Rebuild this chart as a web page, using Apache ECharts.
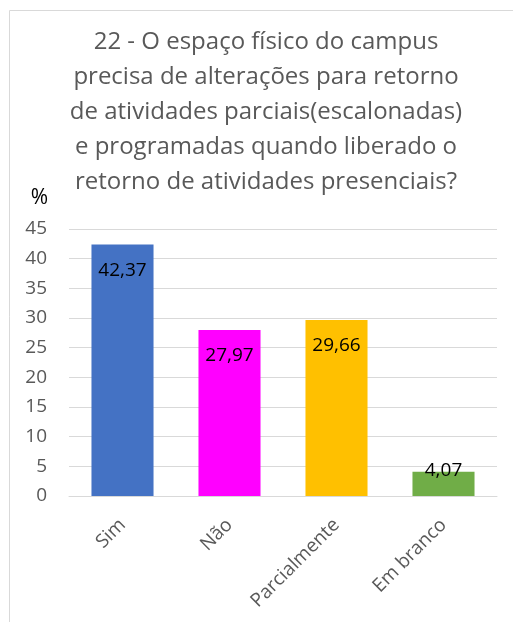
<!DOCTYPE html>
<html>
<head>
<meta charset="utf-8">
<script src="https://cdn.jsdelivr.net/npm/echarts@6/dist/echarts.min.js"></script>
<style>
  html, body { margin: 0; padding: 0; background: #fff; }
  #chart { width: 513px; height: 622px; }
</style>
</head>
<body>
<div id="chart"></div>
<script>
  var titleText = '22 - O espaço físico do campus\nprecisa de alterações para retorno\nde atividades parciais(escalonadas)\ne programadas quando liberado o\nretorno de atividades presenciais?'
  var categories = ['Sim', 'Não', 'Parcialmente', 'Em branco']
  var values = [42.37, 27.97, 29.66, 4.07]
  var barColors = ['#4472C4', '#FF00FF', '#FFC000', '#70AD47']

  var font = '"Open Sans", "Noto Sans", sans-serif'

  var myChart = echarts.init(document.getElementById('chart'))
  var option = {
    animation: false,
    title: {
      text: titleText,
      left: 261,
      top: 20,
      textAlign: 'center',
      textStyle: {
        fontFamily: font,
        fontSize: 24,
        fontWeight: 'normal',
        color: '#595959',
        lineHeight: 35
      }
    },
    graphic: [{
      type: 'rect',
      shape: { x: 9.5, y: 10.5, width: 700, height: 800 },
      style: { fill: 'none', stroke: '#d9d9d9', lineWidth: 1 }
    }],
    grid: {
      left: 69,
      right: 16,
      top: 229,
      bottom: 126
    },
    xAxis: {
      type: 'category',
      data: categories,
      axisTick: { show: false },
      axisLine: { lineStyle: { color: '#d9d9d9', width: 1 } },
      axisLabel: {
        rotate: 45,
        margin: 26,
        fontFamily: font,
        fontSize: 19,
        color: '#595959',
        interval: 0
      }
    },
    yAxis: {
      type: 'value',
      min: 0,
      max: 45,
      interval: 5,
      name: '%',
      nameLocation: 'end',
      nameGap: 31,
      nameTextStyle: {
        fontFamily: font,
        fontSize: 21,
        color: '#000',
        align: 'right',
        verticalAlign: 'middle',
        padding: [0, 21, 0, 0]
      },
      axisLabel: {
        margin: 22,
        fontFamily: font,
        fontSize: 19,
        color: '#595959'
      },
      splitLine: { lineStyle: { color: '#d9d9d9', width: 1 } }
    },
    series: [{
      type: 'bar',
      barWidth: '58%',
      data: values.map(function (v, i) {
        return {
          value: v,
          itemStyle: { color: barColors[i] },
          // barra pequena: rótulo fica sobre a borda
          label: v < 10 ? { position: 'insideTop', distance: -11 } : undefined
        }
      }),
      label: {
        show: true,
        position: 'insideTop',
        distance: 16,
        fontFamily: font,
        fontSize: 19,
        color: '#000',
        formatter: function (p) {
          return p.value.toFixed(2).replace('.', ',')
        }
      }
    }]
  }
  option && myChart.setOption(option)
</script>
</body>
</html>
